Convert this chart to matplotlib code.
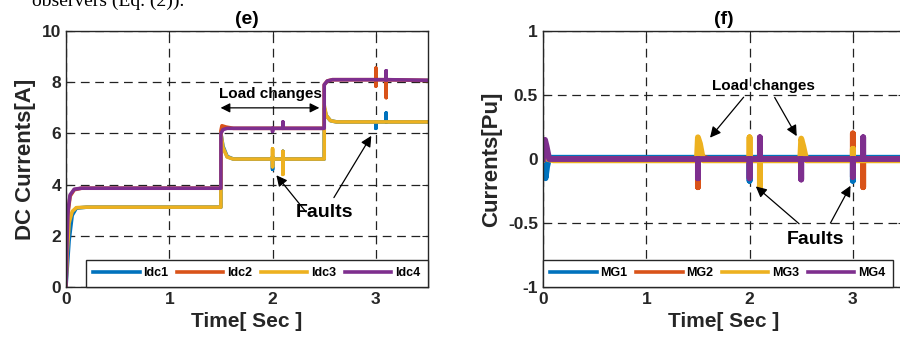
import numpy as np
import matplotlib.pyplot as plt

plt.rcParams['font.family'] = ['Liberation Sans', 'DejaVu Sans']
plt.rcParams['font.weight'] = 'bold'

BLUE = '#0072BD'
ORANGE = '#D95319'
YELLOW = '#EDB120'
PURPLE = '#7E2F8E'

# ---- panel (e): DC currents [A], breakpoints ----
t_idc1 = [0, 0.01, 0.03, 0.06, 0.1, 0.2, 1.5, 1.5, 1.52, 1.56, 1.62,
          2.0, 2.0, 2.0, 2.0, 2.1, 2.1, 2.1, 2.1,
          2.5, 2.5, 2.52, 2.56, 2.62, 3.0, 3.0, 3.0, 3.1, 3.1, 3.1, 3.5]
idc1 = [0, 0.6, 1.8, 2.8, 3.08, 3.12, 3.12, 6.0, 5.5, 5.1, 5.0,
        5.0, 4.6, 5.1, 5.0, 5.0, 5.3, 4.95, 5.0,
        5.0, 7.0, 6.7, 6.5, 6.45, 6.45, 6.2, 6.45, 6.45, 6.8, 6.45, 6.45]

t_idc2 = [0, 0.01, 0.02, 0.04, 0.08, 0.15, 1.5, 1.5, 1.51, 1.55, 1.62,
          2.5, 2.5, 2.53, 2.58, 3.0, 3.0, 3.0, 3.0, 3.1, 3.1, 3.1, 3.5]
idc2 = [0, 1.5, 2.9, 3.55, 3.8, 3.86, 3.86, 6.1, 6.3, 6.25, 6.2,
        6.2, 7.9, 8.05, 8.1, 8.1, 8.55, 7.85, 8.1, 8.1, 7.4, 8.1, 8.07]

t_idc3 = [0, 0.01, 0.03, 0.06, 0.1, 0.2, 1.5, 1.5, 1.52, 1.56, 1.62,
          2.0, 2.0, 2.0, 2.0, 2.1, 2.1, 2.1, 2.1,
          2.5, 2.5, 2.52, 2.56, 2.62, 3.5]
idc3 = [0, 1.2, 2.5, 2.95, 3.1, 3.12, 3.12, 6.0, 5.45, 5.08, 5.0,
        5.0, 5.4, 4.7, 5.0, 5.0, 5.3, 4.4, 5.0,
        5.0, 7.1, 6.7, 6.5, 6.45, 6.45]

t_idc4 = [0, 0.01, 0.02, 0.04, 0.08, 0.15, 1.5, 1.5, 1.52, 1.56, 1.62,
          2.0, 2.0, 2.0, 2.1, 2.1, 2.1,
          2.5, 2.5, 2.53, 2.58, 3.1, 3.1, 3.1, 3.5]
idc4 = [0, 1.8, 3.0, 3.6, 3.82, 3.86, 3.86, 6.0, 6.15, 6.2, 6.2,
        6.2, 6.08, 6.2, 6.2, 6.45, 6.2,
        6.2, 7.9, 8.05, 8.1, 8.1, 8.45, 8.1, 8.08]

# ---- panel (f): microgrid currents [pu] ----
t_mg1 = [0, 0.01, 0.025, 0.04, 0.06, 0.1, 2.0, 2.0, 2.0, 3.0, 3.0, 3.0, 3.5]
mg1 = [0, -0.05, -0.15, -0.06, 0.01, 0.01, 0.01, -0.17, 0.01, 0.01, -0.17, 0.01, 0.01]

t_mg2 = [0, 0.02, 0.05, 0.1, 1.5, 1.5, 1.5, 1.53, 1.56, 1.6,
         3.0, 3.0, 3.0, 3.1, 3.1, 3.1, 3.5]
mg2 = [0, 0.03, 0.0, 0.0, 0.0, -0.22, 0.0, 0.03, 0.01, 0.0,
       0.0, 0.2, 0.0, 0.0, -0.22, 0.0, 0.0]

t_mg3 = [0, 0.02, 0.05, 0.1, 1.49, 1.5, 1.52, 1.55, 2.0, 2.0, 2.0,
         2.1, 2.1, 2.1, 2.49, 2.5, 2.52, 2.55, 3.0, 3.0, 3.0, 3.5]
mg3 = [0, 0.05, 0.0, -0.01, -0.01, 0.17, 0.12, -0.01, -0.01, 0.17, -0.01,
       -0.01, -0.22, -0.01, -0.01, 0.16, 0.1, -0.01, -0.01, 0.08, -0.01, -0.01]

t_mg4 = [0, 0.01, 0.02, 0.035, 0.06, 0.1, 1.5, 1.5, 1.5, 2.0, 2.0, 2.0,
         2.1, 2.1, 2.1, 2.5, 2.5, 2.5, 3.0, 3.0, 3.0, 3.1, 3.1, 3.1, 3.5]
mg4 = [0, 0.1, 0.15, 0.1, 0.0, 0.0, 0.0, -0.15, 0.0, 0.0, -0.15, 0.0,
       0.0, 0.17, 0.0, 0.0, -0.16, 0.0, 0.0, -0.14, 0.0, 0.0, 0.17, 0.0, 0.0]

dc_series = [(t_idc1, idc1, 'Idc1', BLUE), (t_idc2, idc2, 'Idc2', ORANGE),
             (t_idc3, idc3, 'Idc3', YELLOW), (t_idc4, idc4, 'Idc4', PURPLE)]
mg_series = [(t_mg1, mg1, 'MG1', BLUE), (t_mg2, mg2, 'MG2', ORANGE),
             (t_mg3, mg3, 'MG3', YELLOW), (t_mg4, mg4, 'MG4', PURPLE)]

fig = plt.figure(figsize=(9, 3.52), dpi=100)
ax1 = fig.add_axes([0.0733, 0.1847, 0.4017, 0.727])
ax2 = fig.add_axes([0.6033, 0.1847, 0.4017, 0.727])

fig.text(0.205, 0.984, 'observers (Eq. (2)).', ha='right', va='baseline',
         family='Liberation Serif', weight='normal', fontsize=14)


def style(ax, title, ylabel):
    ax.set_xlim(0, 3.5)
    ax.set_xticks([0, 1, 2, 3])
    ax.grid(True, color='#222222', linestyle=(0, (7, 4.5)), linewidth=0.9)
    ax.set_axisbelow(True)
    ax.tick_params(direction='in', length=4, labelsize=12.5, colors='#262626',
                   top=True, right=True)
    for s in ax.spines.values():
        s.set_color('#262626')
        s.set_linewidth(1.0)
    ax.set_title(title, fontsize=14, fontweight='bold', pad=5)
    ax.set_xlabel('Time[ Sec ]', fontsize=15, fontweight='bold', color='#262626')
    ax.set_ylabel(ylabel, fontsize=16, fontweight='bold', color='#262626')


def add_legend(ax, loc, anchor):
    leg = ax.legend(loc=loc, bbox_to_anchor=anchor, ncol=4, fontsize=9,
                    frameon=True, fancybox=False, edgecolor='#262626', framealpha=1,
                    borderaxespad=0, handlelength=3.7, columnspacing=0.7,
                    handletextpad=0.3, borderpad=0.6)
    leg.get_frame().set_linewidth(1.0)
    for h in leg.get_lines():
        h.set_linewidth(2.6)
    return leg


for t, y, lab, c in dc_series:
    ax1.plot(t, y, color=c, lw=2.6, label=lab)
style(ax1, '(e)', 'DC Currents[A]')
ax1.set_ylim(0, 10)
ax1.set_yticks([0, 2, 4, 6, 8, 10])
add_legend(ax1, 'lower right', (1, 0))

ax1.text(1.98, 7.55, 'Load changes', ha='center', va='center', fontsize=11)
ax1.annotate('', xy=(1.47, 7.0), xytext=(2.48, 7.0),
             arrowprops=dict(arrowstyle='<|-|>', color='black', lw=0.9,
                             mutation_scale=14))
ax1.text(2.5, 2.9, 'Faults', ha='center', va='center', fontsize=14)
ax1.annotate('', xy=(2.02, 4.45), xytext=(2.34, 2.85),
             arrowprops=dict(arrowstyle='-|>', color='black', lw=0.9, mutation_scale=16))
ax1.annotate('', xy=(2.97, 6.0), xytext=(2.58, 3.4),
             arrowprops=dict(arrowstyle='-|>', color='black', lw=0.9, mutation_scale=16))

for t, y, lab, c in mg_series:
    ax2.plot(t, y, color=c, lw=4.2, label=lab)
style(ax2, '(f)', 'Currents[Pu]')
ax2.set_ylim(-1, 1)
ax2.set_yticks([-1, -0.5, 0, 0.5, 1])
ax2.set_yticklabels(['-1', '-0.5', '0', '0.5', '1'])
add_legend(ax2, 'lower left', (0, 0))

ax2.text(2.13, 0.57, 'Load changes', ha='center', va='center', fontsize=11)
ax2.annotate('', xy=(1.6, 0.15), xytext=(1.96, 0.5),
             arrowprops=dict(arrowstyle='-|>', color='black', lw=0.9, mutation_scale=16))
ax2.annotate('', xy=(2.47, 0.16), xytext=(2.23, 0.5),
             arrowprops=dict(arrowstyle='-|>', color='black', lw=0.9, mutation_scale=16))
ax2.text(2.64, -0.63, 'Faults', ha='center', va='center', fontsize=14)
ax2.annotate('', xy=(2.04, -0.2), xytext=(2.5, -0.52),
             arrowprops=dict(arrowstyle='-|>', color='black', lw=0.9, mutation_scale=16))
ax2.annotate('', xy=(2.99, -0.19), xytext=(2.77, -0.52),
             arrowprops=dict(arrowstyle='-|>', color='black', lw=0.9, mutation_scale=16))

fig.savefig('out.png', dpi=100)
